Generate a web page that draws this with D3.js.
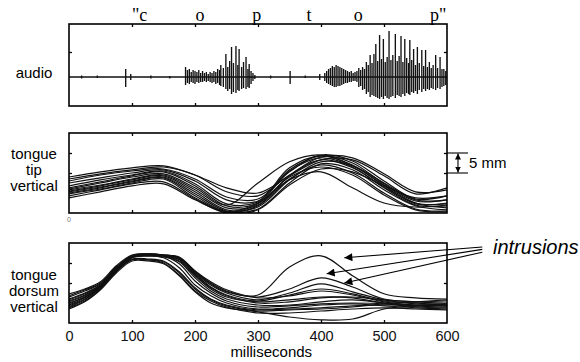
<!DOCTYPE html>
<html>
<head>
<meta charset="utf-8">
<script src="https://cdn.jsdelivr.net/npm/d3@7"></script>
<style>
  body { margin: 0; background: #fff; }
  svg { display: block; }
</style>
</head>
<body>
<div id="chart"></div>
<script>
// time axis (ms)
const xTicks = [0, 100, 200, 300, 400, 500, 600];
const innerTicks = [100, 200, 300, 400, 500];

// phonemes written above the audio trace
const phonemeLabels = ['"c', 'o', 'p', 't', 'o', 'p"'];
const phonemeMs = [112, 208, 298, 381, 459, 586];

// audio waveform, read as [ms, peak, trough] in relative amplitude units
const audioSpikes = [
  [20, 1.5, -1.5], [45, 1.5, -1], [90, 8, -10], [98, 3, -3], [130, 1.5, -1.5], [160, 1, -1.5],
  [185, 10, -8], [188, 7, -6], [191, 8, -7], [194, 5, -5], [197, 7, -6], [200, 6, -7],
  [203, 5, -5], [206, 7, -6], [209, 4, -5], [212, 6, -5], [215, 4, -4], [218, 5, -5],
  [221, 3, -4], [224, 5, -5], [227, 4, -6], [230, 6, -5], [233, 5, -7], [236, 8, -6],
  [239, 7, -8], [241, 12, -9], [245, 9, -10], [249, 23, -12], [252, 10, -14], [255, 16, -12],
  [258, 30, -17], [261, 14, -15], [265, 31, -16], [268, 12, -13], [270, 28, -14], [274, 10, -12],
  [277, 15, -11], [281, 20, -12], [284, 8, -10], [286, 13, -11], [289, 6, -7], [292, 4, -4],
  [295, 2, -2], [320, 1.5, -1.5], [351, 6, -7], [375, 1.5, -1], [398, 3, -3],
  [406, 4, -4], [409, 6, -6], [412, 8, -7], [415, 9, -8], [418, 11, -9], [421, 10, -10],
  [424, 12, -10], [427, 11, -9], [430, 10, -9], [433, 9, -8], [436, 8, -7], [439, 7, -6],
  [442, 6, -6], [445, 5, -5], [448, 6, -5], [451, 4, -4], [454, 5, -4], [457, 6, -5],
  [460, 9, -10], [463, 7, -9], [466, 10, -13], [469, 8, -12], [472, 15, -17], [475, 12, -15],
  [478, 22, -20], [481, 14, -18], [484, 23, -19], [487, 33, -20], [490, 16, -21], [493, 42, -22],
  [496, 18, -20], [499, 38, -22], [502, 15, -19], [505, 20, -21], [508, 46, -22], [511, 17, -20],
  [514, 22, -19], [518, 43, -21], [521, 16, -18], [524, 21, -19], [527, 41, -20], [530, 15, -17],
  [533, 38, -19], [536, 19, -16], [539, 14, -17], [541, 37, -18], [544, 17, -15], [547, 28, -16],
  [550, 12, -14], [553, 30, -17], [556, 14, -13], [560, 27, -15], [563, 11, -12], [566, 27, -14],
  [569, 10, -12], [572, 15, -13], [575, 9, -11], [578, 12, -12], [582, 22, -13], [585, 9, -11],
  [589, 20, -12], [592, 8, -10], [595, 8, -9], [598, 6, -8],
];

// tongue tip vertical position (mm), one row per token
const tipMs = [0, 50, 100, 150, 200, 250, 300, 350, 400, 450, 500, 550, 600];
const tipCurves = [
  [9, 10.3, 11.3, 11.8, 9.5, 6.3, 5, 9.3, 13.3, 13.3, 9.3, 4.8, 6.3],
  [8.5, 9.8, 10.8, 11.5, 9.5, 5.3, 4.3, 9.5, 14, 13.8, 9.8, 5.3, 5.8],
  [8, 9.5, 10.5, 11, 8.5, 4, 3.5, 10.3, 14.5, 13, 8, 3.5, 4.3],
  [7.5, 8.8, 10, 10.8, 8, 3.3, 3, 10.8, 14.3, 12.5, 7.3, 3, 3.3],
  [6.8, 8.3, 9.5, 10.5, 7.3, 2.3, 2.8, 11.3, 14.3, 12, 6.8, 2.3, 2.5],
  [6.3, 7.8, 9.3, 10.3, 6.8, 1.8, 2.5, 10.5, 13.8, 11.5, 6.3, 2, 1.8],
  [6, 7.5, 9, 9.8, 6.3, 2, 7.5, 12.8, 14.5, 11.8, 7, 2.5, 1.3],
  [5.8, 7, 8.5, 9.5, 5.8, 1.3, 2, 9.3, 13.3, 11.3, 6.5, 2.5, 2.3],
  [5.5, 6.8, 8.3, 9.3, 5.3, 0.8, 1.5, 8.3, 12.8, 11.8, 7.5, 3.3, 3.3],
  [5.3, 6.5, 8, 9, 4.8, 0.5, 1, 7.5, 12.3, 10.8, 5.8, 1.8, 0.8],
  [5, 6.3, 7.8, 8.8, 4.3, 0.3, 1.8, 8.5, 12, 10, 5, 1, 0.5],
  [4.8, 6, 7.5, 8.5, 3.8, 0.3, 2.3, 9, 11.5, 9.5, 4.5, 0.8, 0.3],
  [4.3, 5.8, 7.3, 7.8, 3.5, 0, 0.8, 7, 11, 10.3, 6.8, 3.8, 4.3],
  [3.8, 5.3, 6.8, 7.3, 3.3, 0.3, 2.5, 8.3, 10.3, 6.3, 2.5, 1.5, 2],
];

// tongue dorsum vertical position (mm), one row per token
const dorsumMs = [0, 25, 50, 75, 100, 125, 150, 175, 200, 225, 250, 300, 350, 400, 450, 500, 550, 600];
const dorsumCurves = [
  [6.5, 8, 9.8, 13.8, 16.8, 17.3, 17, 16.3, 12.8, 9.8, 7.8, 7, 14, 16.8, 11.8, 7.3, 6.3, 6],
  [6, 7.5, 9.5, 13.5, 16.8, 17.3, 17, 16.5, 13, 10, 8, 6.5, 8.5, 11.3, 9, 6, 5.3, 5],
  [5.5, 7, 9.3, 13.3, 16.5, 17, 17, 16.3, 12.5, 9.5, 7.5, 5.8, 7.5, 9.8, 7.8, 5.8, 4.8, 4.8],
  [7.3, 8.5, 10.3, 14.3, 17, 17.3, 17, 16, 12.3, 9, 7, 5.5, 7, 8.5, 7.3, 5.5, 5, 4.5],
  [5, 6.5, 9, 13, 16.3, 16.8, 16.8, 16.3, 13, 10.3, 8.3, 6.3, 6.8, 8, 7, 5.3, 4.5, 4.3],
  [4.5, 6.3, 9, 13.3, 16.5, 17, 16.8, 15.8, 12, 8.8, 6.8, 5, 5.3, 6.3, 6.5, 5.8, 5.3, 5.5],
  [4.3, 6, 8.8, 13, 16.3, 16.8, 16.5, 15.3, 11.3, 8, 6, 4.5, 4.5, 5.3, 5.8, 5, 4.3, 4],
  [5.8, 7.3, 9.5, 13.8, 16.8, 17, 16.8, 14.8, 10.5, 7.5, 5.5, 4, 4.3, 4.8, 5, 4.8, 4, 3.8],
  [5.3, 6.8, 9.3, 13.5, 16.5, 16.8, 16.3, 13.8, 9.5, 6.8, 5, 3.5, 3.8, 4.5, 4.8, 4.3, 3.8, 3.5],
  [4.8, 6.5, 9, 13.3, 16, 16, 15.5, 12.8, 8.8, 6, 4.5, 3.3, 3.5, 3.8, 4.3, 4.5, 4.5, 4.3],
  [4, 5.8, 8.8, 13, 15.8, 15.8, 15.3, 12.5, 8.5, 5.8, 4.3, 3, 3.3, 3.5, 4, 4.8, 5.3, 5.8],
  [3.8, 5.5, 8.5, 12.8, 15.8, 15.8, 15, 12, 8, 5.5, 4, 2.5, 2.5, 3, 3.5, 3.8, 3.5, 3.3],
  [6.8, 8.3, 10, 14, 16.8, 17, 16.8, 15.5, 11.8, 8.5, 6.5, 5.3, 5.8, 6.5, 6.3, 5, 4.3, 4.5],
  [3.5, 5.3, 8.3, 12.5, 15.5, 15.5, 14.8, 11.8, 7.8, 5, 3.8, 2.8, 1.5, 0.8, 1, 3.5, 4.3, 4.8],
];

// intrusion arrows: tail and head as [ms, mm] on the dorsum panel
const intrusionTails = [[656, 19], [656, 18.4], [656, 17.7]];
const intrusionHeads = [[437, 16.3], [409, 12.3], [437, 10]];

const W = 580, H = 362;
const sans = '"Liberation Sans", Arial, Helvetica, sans-serif';
const serif = '"Liberation Serif", "Times New Roman", serif';

const svg = d3.select('#chart').append('svg')
  .attr('width', W)
  .attr('height', H)
  .style('font-family', sans);

const defs = svg.append('defs');
const marker = (id, w, h) => defs.append('marker')
  .attr('id', id)
  .attr('viewBox', '0 0 10 10')
  .attr('refX', 10).attr('refY', 5)
  .attr('markerUnits', 'userSpaceOnUse')
  .attr('markerWidth', w).attr('markerHeight', h)
  .attr('orient', 'auto-start-reverse')
  .append('path').attr('d', 'M0,0 L10,5 L0,10 z').attr('fill', '#000');
marker('head-big', 13, 8);
marker('head-small', 6, 6);

// scales
const x = d3.scaleLinear().domain([0, 600]).range([69, 447]);
const yAudio = d3.scaleLinear().domain([-29, 53]).range([106, 24]);
const yTip = d3.scaleLinear().domain([0, 20]).range([213, 133]);
const yDorsum = d3.scaleLinear().domain([0, 20]).range([323, 243]);

// panel frame with inward ticks
const drawFrame = (y, id, leftTicks, rightTicks) => {
  const [yb, yt] = y.range();
  defs.append('clipPath').attr('id', id)
    .append('rect').attr('x', x(0)).attr('y', yt).attr('width', x(600) - x(0)).attr('height', yb - yt);

  const g = svg.append('g');
  g.append('g').attr('transform', `translate(0,${yt})`)
    .call(d3.axisTop(x).tickValues(innerTicks).tickSize(-3).tickFormat(''));
  g.append('g').attr('transform', `translate(0,${yb})`)
    .call(d3.axisBottom(x).tickValues(innerTicks).tickSize(-3).tickFormat(''));
  g.append('g').attr('transform', `translate(${x(0)},0)`)
    .call(d3.axisLeft(y).tickValues(leftTicks).tickSize(-3).tickFormat(''));
  g.append('g').attr('transform', `translate(${x(600)},0)`)
    .call(d3.axisRight(y).tickValues(rightTicks).tickSize(-3).tickFormat(''));
  g.selectAll('.domain').remove();
  g.selectAll('.tick line').attr('stroke-width', 1.3);

  svg.append('rect')
    .attr('x', x(0)).attr('y', yt)
    .attr('width', x(600) - x(0)).attr('height', yb - yt)
    .attr('fill', 'none').attr('stroke', '#000').attr('stroke-width', 1.6);
};

// ---- audio panel
const audioG = svg.append('g');
audioG.append('line')
  .attr('x1', x(0)).attr('x2', x(600))
  .attr('y1', yAudio(0)).attr('y2', yAudio(0))
  .attr('stroke', '#111').attr('stroke-width', 1.3);
audioG.selectAll('line.spike')
  .data(audioSpikes)
  .join('line')
  .attr('class', 'spike')
  .attr('x1', (d) => x(d[0])).attr('x2', (d) => x(d[0]))
  .attr('y1', (d) => yAudio(d[1])).attr('y2', (d) => yAudio(d[2]))
  .attr('stroke', '#111')
  .attr('stroke-width', 1.35);
drawFrame(yAudio, 'clip-audio', [25], [25]);

svg.append('g')
  .selectAll('text')
  .data(phonemeLabels)
  .join('text')
  .attr('x', (d, i) => x(phonemeMs[i]))
  .attr('y', 21)
  .attr('text-anchor', 'middle')
  .style('font-family', serif)
  .style('font-size', '18px')
  .text((d) => d);

// ---- tongue curves
const drawCurves = (ms, curves, y, id) => {
  const line = d3.line()
    .x((d, i) => x(ms[i]))
    .y((d) => y(d))
    .curve(d3.curveCatmullRom.alpha(0.5));
  svg.append('g')
    .attr('clip-path', `url(#${id})`)
    .selectAll('path')
    .data(curves)
    .join('path')
    .attr('fill', 'none')
    .attr('stroke', '#111')
    .attr('stroke-width', 1.2)
    .attr('d', line);
};

drawCurves(tipMs, tipCurves, yTip, 'clip-tip');
drawFrame(yTip, 'clip-tip', [10, 15], [10, 15]);

drawCurves(dorsumMs, dorsumCurves, yDorsum, 'clip-dorsum');
drawFrame(yDorsum, 'clip-dorsum', [10, 15], [10]);

// time axis labels under the last panel
const xAxis = svg.append('g')
  .attr('transform', `translate(0,${yDorsum(0)})`)
  .call(d3.axisBottom(x).tickValues(xTicks).tickSize(0).tickPadding(8));
xAxis.select('.domain').remove();
xAxis.selectAll('text').style('font-size', '14.5px').style('font-family', sans).attr('fill', '#111');

svg.append('text')
  .attr('x', x(321)).attr('y', 357)
  .attr('text-anchor', 'middle')
  .style('font-size', '15px')
  .text('milliseconds');

// tiny "0" under the tongue tip panel
svg.append('text')
  .attr('x', x(0)).attr('y', 222)
  .attr('text-anchor', 'middle')
  .style('font-size', '7px')
  .attr('fill', '#777')
  .text('0');

// ---- row labels
const rowLabels = [
  { lines: ['audio'], y0: 78 },
  { lines: ['tongue', 'tip', 'vertical'], y0: 159 },
  { lines: ['tongue', 'dorsum', 'vertical'], y0: 280 },
];
rowLabels.forEach((r) => {
  svg.append('text')
    .attr('text-anchor', 'middle')
    .style('font-size', '15px')
    .selectAll('tspan')
    .data(r.lines)
    .join('tspan')
    .attr('x', 34)
    .attr('y', (d, i) => r.y0 + i * 16)
    .text((d) => d);
});

// ---- 5 mm scale bar
const bar = svg.append('g').attr('stroke', '#000').attr('stroke-width', 1.1);
[15, 10].forEach((v) => {
  bar.append('line')
    .attr('x1', x(600)).attr('x2', x(600) + 21)
    .attr('y1', yTip(v)).attr('y2', yTip(v));
});
bar.append('line')
  .attr('x1', x(600) + 11).attr('x2', x(600) + 11)
  .attr('y1', yTip(15) + 0.5).attr('y2', yTip(10) - 0.5)
  .attr('marker-start', 'url(#head-small)')
  .attr('marker-end', 'url(#head-small)');
svg.append('text')
  .attr('x', x(600) + 22).attr('y', yTip(12.5) + 5)
  .style('font-size', '15px')
  .text('5 mm');

// ---- intrusion annotation
svg.append('g')
  .selectAll('line')
  .data(intrusionTails)
  .join('line')
  .attr('x1', (d) => x(d[0])).attr('y1', (d) => yDorsum(d[1]))
  .attr('x2', (d, i) => x(intrusionHeads[i][0])).attr('y2', (d, i) => yDorsum(intrusionHeads[i][1]))
  .attr('stroke', '#000')
  .attr('stroke-width', 1.1)
  .attr('marker-end', 'url(#head-big)');

svg.append('text')
  .attr('x', x(673)).attr('y', 254)
  .style('font-size', '20px')
  .style('font-style', 'italic')
  .text('intrusions');
</script>
</body>
</html>
